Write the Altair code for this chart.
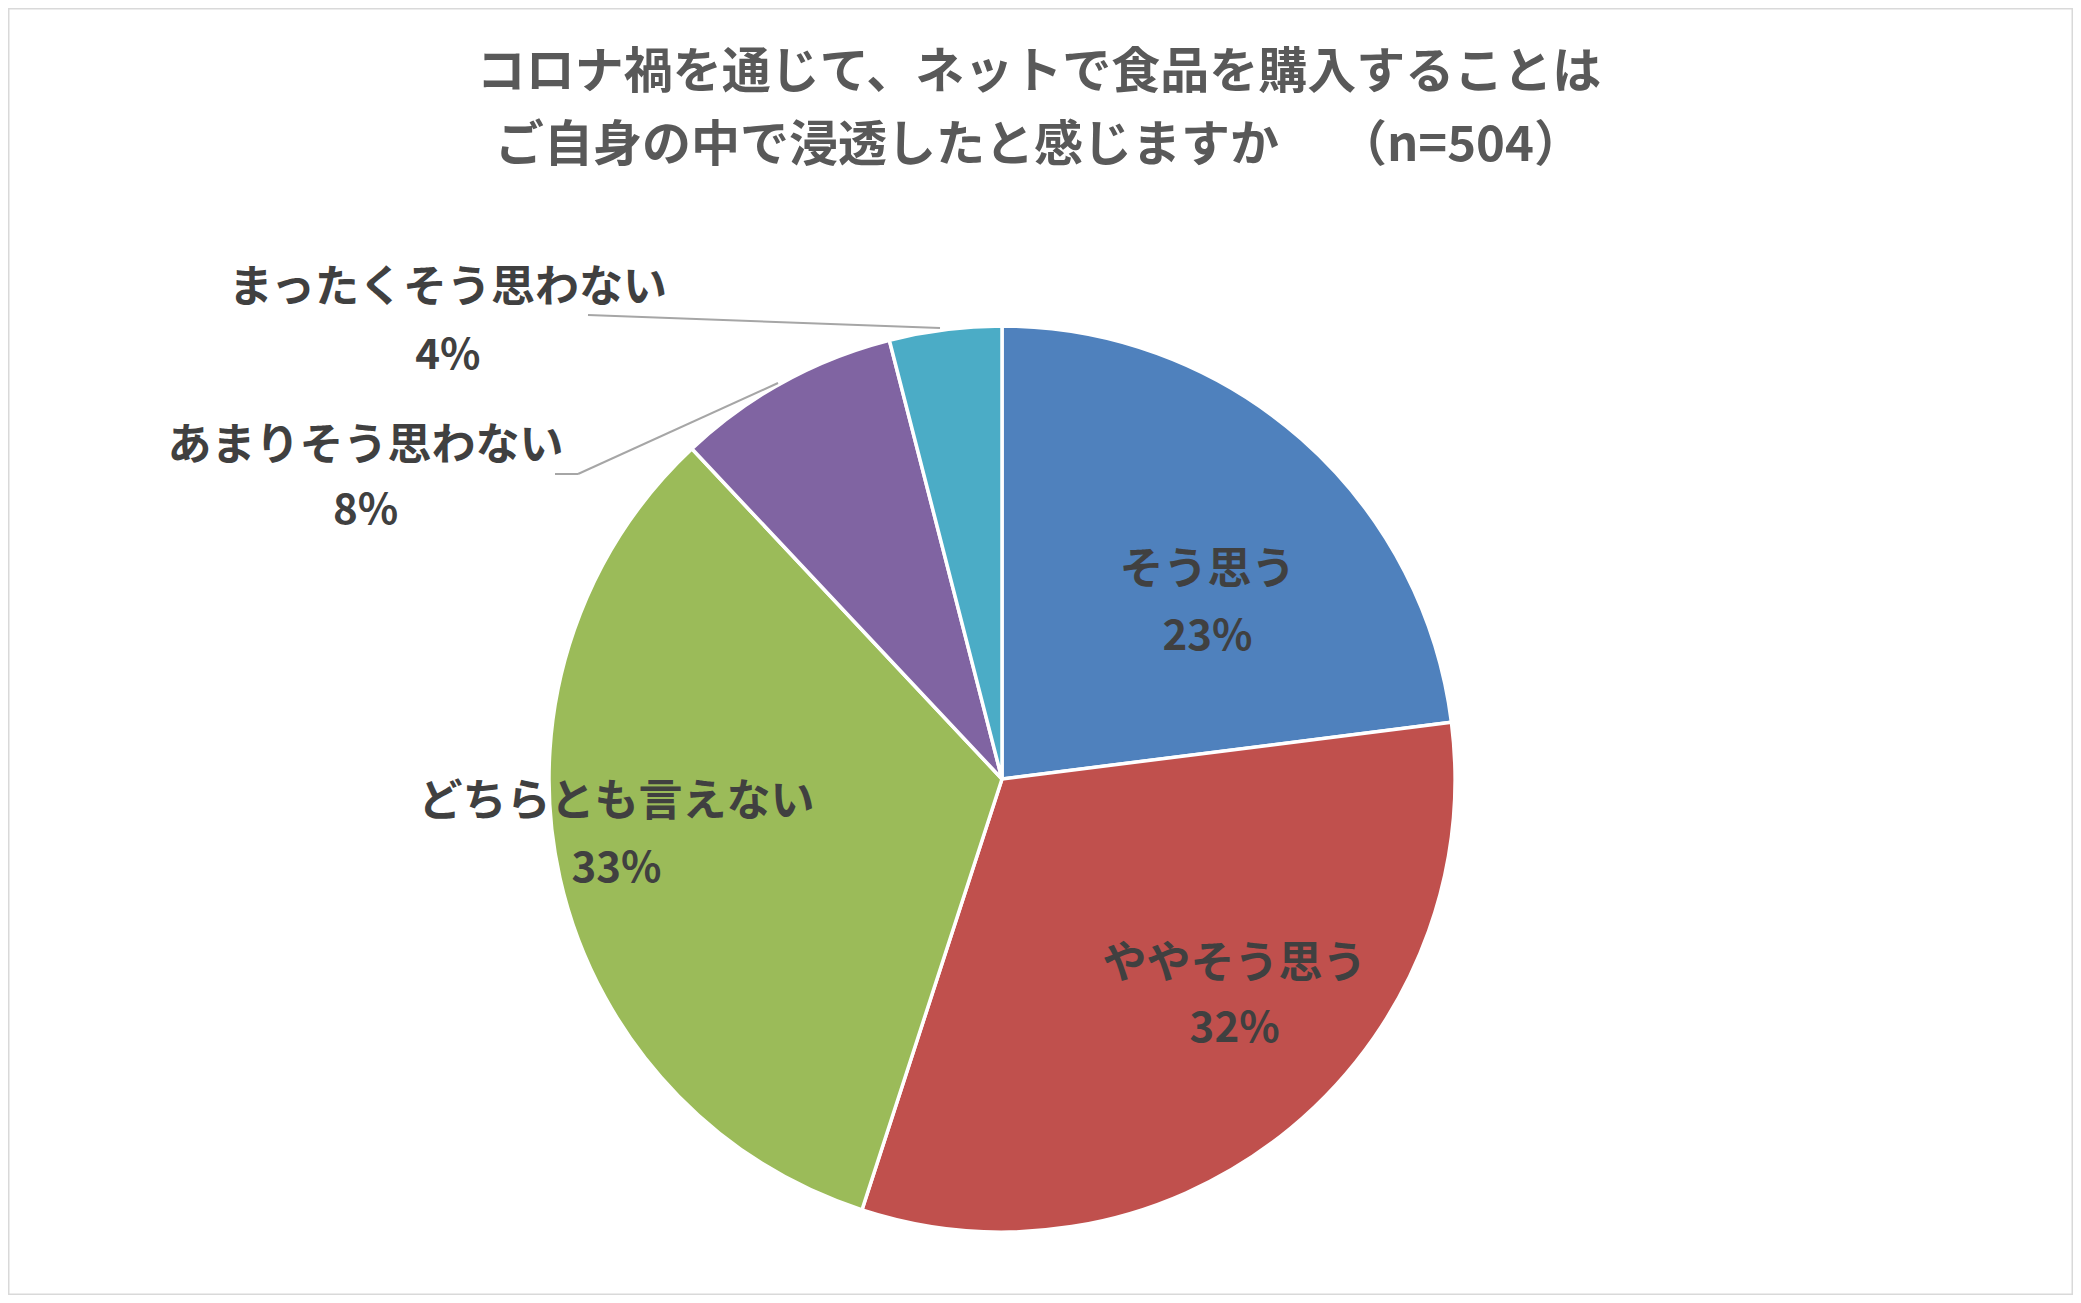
import altair as alt
import pandas as pd

# ---- data ----
categories = ["そう思う", "ややそう思う", "どちらとも言えない", "あまりそう思わない", "まったくそう思わない"]
values = [23, 32, 33, 8, 4]
colors = ["#4F81BD", "#C0504D", "#9BBB59", "#8064A2", "#4BACC6"]
title_lines = ["コロナ禍を通じて、ネットで食品を購入することは", "ご自身の中で浸透したと感じますか　\u2009（n=504）"]

df = pd.DataFrame({
    "category": categories,
    "value": values,
    "idx": list(range(len(categories))),
})
df["pct"] = [f"{v}%" for v in values]

# ---- layout ----
W, H = 2065, 1287
CX, CY = 994, 771
R = 453
FONT = "Noto Sans CJK JP"

# label placement: (radius along slice mid-angle, dx, dy of name line, dy of percent line)
label_layout = {
    "そう思う": (270, 27, -5, 61),
    "ややそう思う": (310, 35, -53, 11),
    "どちらとも言えない": (390, -5, -61, 5),
    "あまりそう思わない": (520, -386, 124, 188),
    "まったくそう思わない": (520, -489, 26, 93),
}

base = alt.Chart(df).encode(
    theta=alt.Theta("value:Q", stack=True),
    order=alt.Order("idx:Q", sort="ascending"),
    x=alt.value(CX),
    y=alt.value(CY),
)

pie = base.mark_arc(radius=R, stroke="white", strokeWidth=3.5).encode(
    color=alt.Color("category:N", scale=alt.Scale(domain=categories, range=colors), legend=None)
)

text_style = dict(fontWeight="bold", font=FONT, color="#404040", align="center", baseline="middle")

label_layers = []
for cat in categories:
    rr, ddx, dy_name, dy_pct = label_layout[cat]
    label_layers.append(
        base.mark_text(radius=rr, dx=ddx, dy=dy_name, fontSize=44, **text_style).encode(
            text=alt.condition(alt.datum.category == cat, alt.Text("category:N"), alt.value(""))
        )
    )
    label_layers.append(
        base.mark_text(radius=rr, dx=ddx, dy=dy_pct, fontSize=42, **text_style).encode(
            text=alt.condition(alt.datum.category == cat, alt.Text("pct:N"), alt.value(""))
        )
    )

one = alt.Chart(pd.DataFrame({"a": [0]}))

title = one.mark_text(
    text=title_lines, lineHeight=73, fontSize=49, fontWeight="bold", font=FONT,
    color="#595959", align="center", baseline="middle",
).encode(x=alt.value(1031), y=alt.value(65))

leader_style = dict(color="#A6A6A6", strokeWidth=2)
lead1 = one.mark_rule(**leader_style).encode(
    x=alt.value(580), y=alt.value(307), x2=alt.value(932), y2=alt.value(320))
lead2a = one.mark_rule(**leader_style).encode(
    x=alt.value(770), y=alt.value(375), x2=alt.value(570), y2=alt.value(466))
lead2b = one.mark_rule(**leader_style).encode(
    x=alt.value(570), y=alt.value(466), x2=alt.value(547), y2=alt.value(466))

chart = alt.layer(pie, lead1, lead2a, lead2b, *label_layers, title).properties(
    width=W, height=H, padding=0, autosize=alt.AutoSizeParams(type="none"),
    background="white",
).configure_view(stroke="#D9D9D9", strokeWidth=3)

chart.save("out.html", embed_options={"renderer": "svg", "actions": False})
